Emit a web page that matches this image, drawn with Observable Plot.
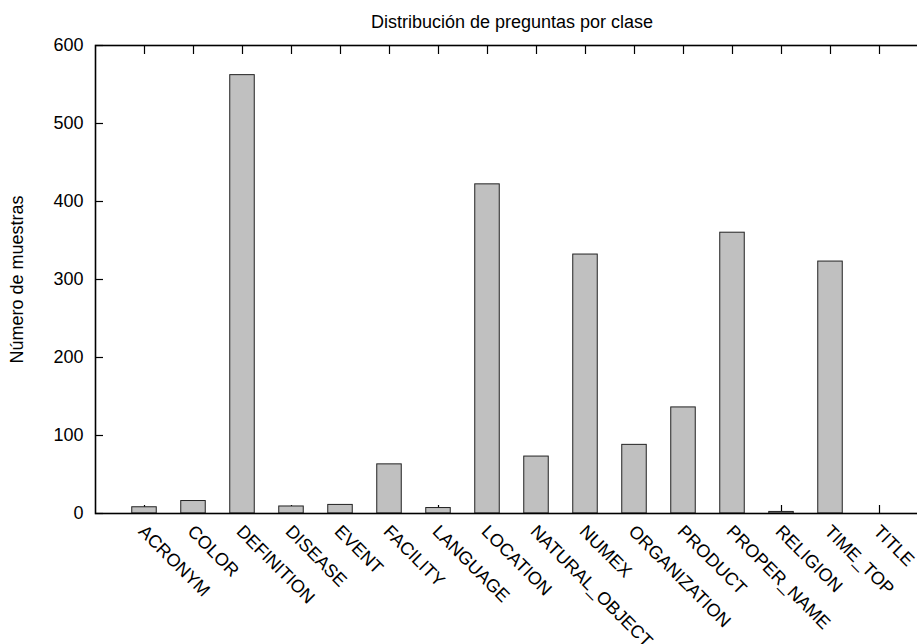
<!DOCTYPE html>
<html>
<head>
<meta charset="utf-8">
<script src="https://cdn.jsdelivr.net/npm/d3@7"></script>
<script src="https://cdn.jsdelivr.net/npm/@observablehq/plot@0.6"></script>
<style>
  html, body { margin: 0; padding: 0; background: #fff; }
  svg { display: block; }
</style>
</head>
<body>
<div id="chart"></div>
<script>
const categories = ["ACRONYM","COLOR","DEFINITION","DISEASE","EVENT","FACILITY","LANGUAGE","LOCATION","NATURAL_OBJECT","NUMEX","ORGANIZATION","PRODUCT","PROPER_NAME","RELIGION","TIME_TOP","TITLE"];
const counts = [8, 16, 562, 9, 11, 63, 7, 422, 73, 332, 88, 136, 360, 2, 323, 0];
const yTicks = [0, 100, 200, 300, 400, 500, 600];
const title = "Distribución de preguntas por clase";
const yLabel = "Número de muestras";

const data = categories.map((c, i) => ({cat: c, idx: i, n: counts[i]}));
const idxs = categories.map((c, i) => i);
const font = "Liberation Sans, Arial, Helvetica, sans-serif";
const fs = 18;

const chart = Plot.plot({
  width: 917,
  height: 644,
  marginLeft: 95,
  marginRight: -11,
  marginTop: 45,
  marginBottom: 131,
  style: {fontFamily: font, fontSize: fs + "px", color: "#000", background: "#fff"},
  x: {type: "linear", domain: [-1, 16]},
  y: {domain: [0, 600]},
  marks: [
    Plot.axisX({anchor: "bottom", ticks: idxs, tickSize: -8, tickFormat: () => "", label: null, strokeWidth: 1.2}),
    Plot.axisX({anchor: "top", ticks: idxs, tickSize: -8, tickFormat: () => "", label: null, strokeWidth: 1.2}),
    Plot.axisY({anchor: "left", ticks: yTicks, tickSize: -8, tickFormat: () => "", label: null, strokeWidth: 1.2}),
    Plot.rectY(data, {x1: d => d.idx - 0.25, x2: d => d.idx + 0.25, y1: 0, y2: "n", fill: "#c0c0c0", stroke: "#222", strokeWidth: 1}),
    Plot.axisY({anchor: "left", ticks: yTicks, tickSize: 0, tickPadding: 12, label: null, fontSize: fs, fill: "#000"}),
    Plot.text(data, {x: "idx", y: 0, text: "cat", rotate: 45, textAnchor: "start", dx: -3, dy: 15, fontSize: fs, fill: "#000"}),
    Plot.frame({stroke: "#000", strokeWidth: 1.6}),
    Plot.text([title], {frameAnchor: "top", textAnchor: "middle", lineAnchor: "middle", dy: -23, fontSize: fs, fill: "#000"}),
    Plot.text([yLabel], {frameAnchor: "left", textAnchor: "middle", lineAnchor: "middle", dx: -78, rotate: -90, fontSize: fs, fill: "#000"})
  ]
});
document.getElementById("chart").appendChild(chart);
</script>
</body>
</html>
